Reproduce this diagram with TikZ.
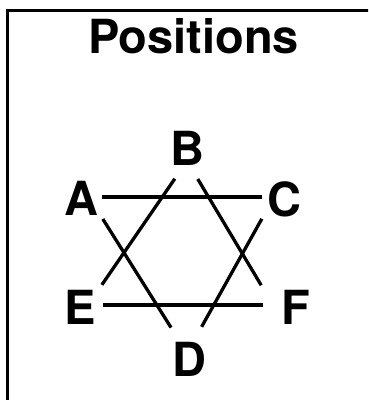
\documentclass[tikz,border=0pt]{standalone}
\usepackage{fontspec}
\setmainfont{TeX Gyre Heros}
\usetikzlibrary{positioning}

\begin{document}
\begin{tikzpicture}[x=1pt, y=-1pt, every node/.style={font=\fontsize{47}{56}\selectfont\bfseries, inner sep=0pt}, corner/.style={coordinate}, letter/.style={anchor=base}, edge/.style={line width=3.3pt}, frame/.style={line width=2.5pt}]
\useasboundingbox (0,0) rectangle (368,400);
\begin{scope}
\clip (0,0) rectangle (368,400);
\draw[frame] (7.5,10.3) rectangle (390,420);
\end{scope}
\node[letter] (title) at (193.5,53) {Positions};
% star corners
\node[corner] (pA) at (89,197) {};
\node[corner] (pC) at (274,197) {};
\node[corner] (pD) at (187,353) {};
\node[corner] (pB) at (187,161) {};
\node[corner] (pE) at (88,305) {};
\node[corner] (pF) at (273,305) {};
% labels
\node[letter] (A) at (81.5,215) {A};
\node[letter] (B) at (187,165) {B};
\node[letter] (C) at (284.5,216) {C};
\node[letter] (D) at (189.5,376) {D};
\node[letter] (E) at (80.5,324) {E};
\node[letter] (F) at (295.5,324) {F};
% triangle A-C-D
\draw[edge, shorten <=13pt, shorten >=12pt] (pA) -- (pC);
\draw[edge, shorten <=26pt, shorten >=30pt] (pA) -- (pD);
\draw[edge, shorten <=25pt, shorten >=30pt] (pC) -- (pD);
% triangle B-E-F
\draw[edge, shorten <=21.5pt, shorten >=24.5pt] (pB) -- (pE);
\draw[edge, shorten <=21pt, shorten >=23pt] (pB) -- (pF);
\draw[edge, shorten <=15pt, shorten >=10pt] (pE) -- (pF);
\end{tikzpicture}
\end{document}
